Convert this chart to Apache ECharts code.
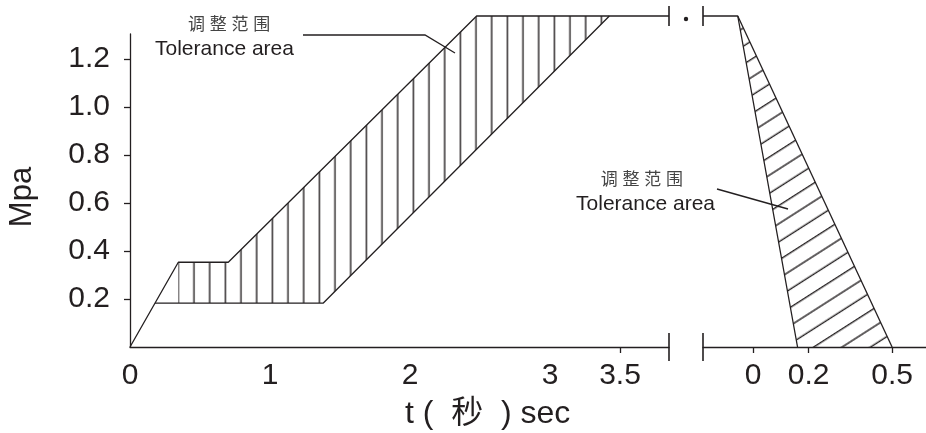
<!DOCTYPE html>
<html><head><meta charset="utf-8">
<script src="https://cdn.jsdelivr.net/npm/echarts@6/dist/echarts.min.js"></script>
<style>html,body{margin:0;padding:0;background:#fff}#c{width:926px;height:433px}</style>
</head><body><div id="c"></div>
<script>
// ---- data ----
const yTickValues = [0.2, 0.4, 0.6, 0.8, 1.0, 1.2];
const xLabelsLeft = [0, 1, 2, 3, 3.5];
const xTicksLeft = [3.5];
const xLabelsRight = [0, 0.2, 0.5];
const xRangeLeft = [0, 3.85];
const xRangeRight = [-0.18, 0.622];
const yRange = [0, 1.304];
const plateau = 1.379;
// left (time, s) boundaries of the tolerance area
const leftUpper = [[0, 0], [0.345, 0.353], [0.702, 0.353], [2.476, plateau], [3.85, plateau]];
const leftLower = [[0.179, 0.183], [1.381, 0.183], [3.424, plateau]];
// right (release) boundaries
const rightInner = [[-0.18, plateau], [-0.055, plateau], [0.16, 0]];
const rightOuter = [[-0.055, plateau], [0.5, 0]];

const INK = '#231f20';
const FONT = '"Liberation Sans", Arial, "Noto Sans CJK SC", sans-serif';

// hatch tiles: three lines per tile, unscaled
function hatchTile(vertical) {
  const c = document.createElement('canvas');
  const g = c.getContext('2d');
  if (vertical) {
    c.width = 47; c.height = 8; g.fillStyle = INK;
    [0, 15.667, 31.333].forEach(x => g.fillRect(x, 0, 1.4, 8));
  } else {
    c.width = 8; c.height = 46; g.fillStyle = INK;
    [0, 15.333, 30.667].forEach(y => g.fillRect(0, y, 8, 1.4));
  }
  return c;
}
const vTile = hatchTile(true), hTile = hatchTile(false);

const leftBand = [leftUpper[1], leftUpper[2], leftUpper[3], leftLower[2], leftLower[1], [leftUpper[1][0], leftLower[1][1]]];
const rightBand = [rightOuter[0], rightInner[2], rightOuter[1]];

const chart = echarts.init(document.getElementById('c'), null, {renderer: 'canvas'});
const lineSt = {color: INK, width: 1.3};
const labelSt = {color: INK, fontSize: 30, fontFamily: FONT};

function lineSeries(data, xi) {
  return {type: 'line', xAxisIndex: xi, yAxisIndex: xi, data: data, showSymbol: false, symbol: 'none',
    clip: false, lineStyle: lineSt, silent: true, z: 3};
}

const option = {
  animation: false,
  backgroundColor: '#fff',
  grid: [
    {left: 130, top: 34, width: 539, height: 313},
    {left: 703, top: 34, width: 223, height: 313}
  ],
  xAxis: [
    {gridIndex: 0, type: 'value', min: xRangeLeft[0], max: xRangeLeft[1],
      axisLine: {show: true, onZero: false, lineStyle: lineSt},
      axisTick: {show: true, length: 6, customValues: xTicksLeft, lineStyle: lineSt},
      axisLabel: Object.assign({customValues: xLabelsLeft, margin: 14}, labelSt),
      splitLine: {show: false}},
    {gridIndex: 1, type: 'value', min: xRangeRight[0], max: xRangeRight[1],
      axisLine: {show: true, onZero: false, lineStyle: lineSt},
      axisTick: {show: true, length: 6, customValues: xLabelsRight, lineStyle: lineSt},
      axisLabel: Object.assign({customValues: xLabelsRight, margin: 14}, labelSt),
      splitLine: {show: false}}
  ],
  yAxis: [
    {gridIndex: 0, type: 'value', min: yRange[0], max: yRange[1],
      axisLine: {show: true, onZero: false, lineStyle: lineSt},
      axisTick: {show: true, length: 6, customValues: yTickValues, lineStyle: lineSt},
      axisLabel: Object.assign({customValues: yTickValues, margin: 20, formatter: v => v.toFixed(1)}, labelSt),
      splitLine: {show: false}},
    {gridIndex: 1, type: 'value', min: yRange[0], max: yRange[1], show: false}
  ],
  series: [
    {type: 'custom', xAxisIndex: 0, yAxisIndex: 0, data: [[0, 0]], silent: true, z: 2,
      renderItem: function (params, api) {
        const pts = leftBand.map(p => api.coord(p));
        const corner = api.coord(leftUpper[1]);
        return {type: 'polygon', shape: {points: pts},
          style: {fill: {image: vTile, repeat: 'repeat', x: corner[0] - 0.7, y: 0}, stroke: null}};
      }},
    {type: 'custom', xAxisIndex: 1, yAxisIndex: 1, data: [[0, 0]], silent: true, z: 2,
      renderItem: function (params, api) {
        const pts = rightBand.map(p => api.coord(p));
        const base = api.coord(rightInner[2]);
        return {type: 'polygon', shape: {points: pts},
          style: {fill: {image: hTile, repeat: 'repeat', x: base[0] + 16, y: base[1] - 0.7, rotation: -0.569}, stroke: null}};
      }},
    lineSeries(leftUpper, 0),
    lineSeries(leftLower, 0),
    lineSeries(rightInner, 1),
    lineSeries(rightOuter, 1)
  ]
};
chart.setOption(option);

const bL = chart.convertToPixel({gridIndex: 0}, [xRangeLeft[1], 0]);
const tL = chart.convertToPixel({gridIndex: 0}, [xRangeLeft[1], plateau]);
const bR = chart.convertToPixel({gridIndex: 1}, [xRangeRight[0], 0]);
const tR = chart.convertToPixel({gridIndex: 1}, [xRangeRight[0], plateau]);
function seg(x1, y1, x2, y2) {
  return {type: 'line', shape: {x1: x1, y1: y1, x2: x2, y2: y2}, style: {stroke: INK, lineWidth: 1.6}, silent: true, z: 10};
}
function txt(text, x, y, size, align, color) {
  return {type: 'text', x: x, y: y, silent: true, z: 10,
    style: {text: text, font: size + 'px ' + FONT, fill: color || INK, align: align, textAlign: align,
      verticalAlign: 'middle', textVerticalAlign: 'middle'}};
}
chart.setOption({
  graphic: [
    seg(bL[0], bL[1] - 14, bL[0], bL[1] + 14),
    seg(bR[0], bR[1] - 14, bR[0], bR[1] + 14),
    seg(tL[0], tL[1] - 10, tL[0], tL[1] + 10),
    seg(tR[0], tR[1] - 10, tR[0], tR[1] + 10),
    {type: 'circle', shape: {cx: (tL[0] + tR[0]) / 2, cy: tL[1] + 3, r: 2.2}, style: {fill: INK}, silent: true},
    {type: 'polyline', shape: {points: [[303, 35], [425, 35], [455, 53]]}, style: {stroke: INK, lineWidth: 1.3, fill: null}, silent: true},
    {type: 'line', shape: {x1: 717, y1: 189, x2: 788, y2: 209}, style: {stroke: INK, lineWidth: 1.3}, silent: true},
    txt('调 整 范 围', 188, 25.5, 17, 'left', '#444'),
    txt('Tolerance area', 155, 49.5, 21, 'left'),
    txt('调 整 范 围', 683, 180, 17, 'right', '#444'),
    txt('Tolerance area', 715, 204.5, 21, 'right'),
    txt('t (  秒  ) sec', 405, 414, 32, 'left'),
    Object.assign(txt('Mpa', 22, 197, 31, 'center'), {rotation: Math.PI / 2})
  ]
});
</script>
</body></html>
